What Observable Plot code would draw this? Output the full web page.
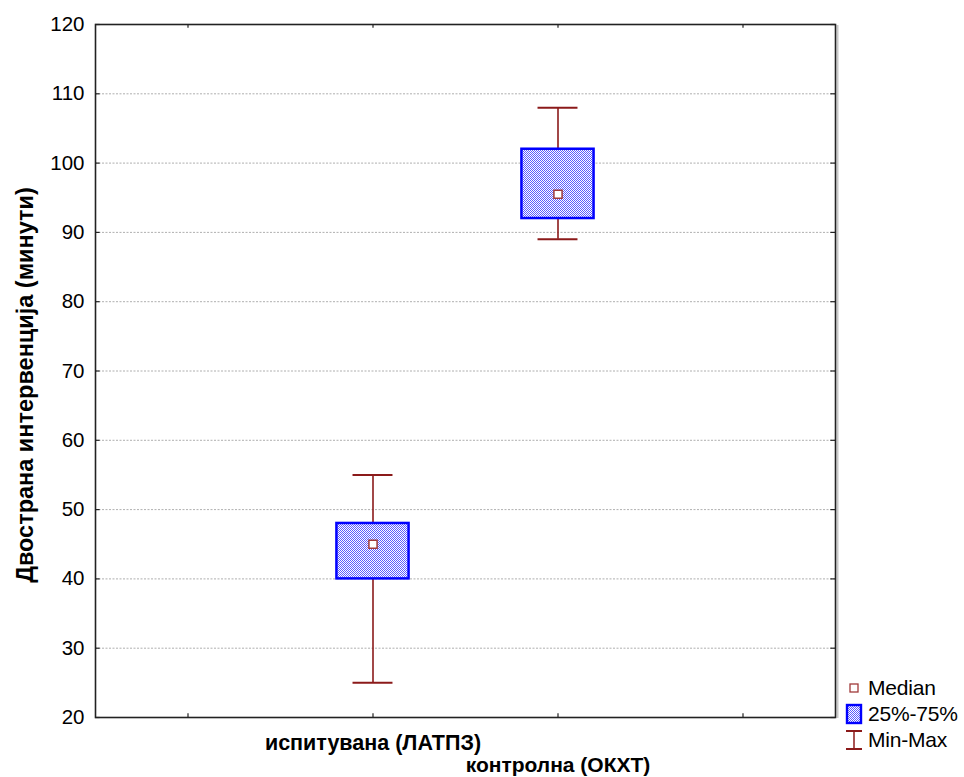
<!DOCTYPE html>
<html>
<head>
<meta charset="utf-8">
<script src="https://cdn.jsdelivr.net/npm/d3@7"></script>
<script src="https://cdn.jsdelivr.net/npm/@observablehq/plot@0.6"></script>
<style>
  body { margin: 0; background: #fff; font-family: "Liberation Sans", Arial, sans-serif; }
  #wrap { position: relative; width: 964px; height: 777px; }
  #legend { position: absolute; left: 843px; top: 675px; font-size: 21px; color: #000; line-height: 26px; letter-spacing: -0.2px; }
  #legend .row { display: flex; align-items: center; height: 26px; }
  #legend svg { width: 22px; height: 22px; margin-right: 3px; flex: none; }
</style>
</head>
<body>
<div id="wrap"><div id="legend"></div></div>
<script>
const categories = ["испитувана (ЛАТПЗ)", "контролна (ОКХТ)"];
const minVals    = [25, 89];
const q1Vals     = [40, 92];
const medianVals = [45, 95.5];
const q3Vals     = [48, 102];
const maxVals    = [55, 108];
const yTicks = [20, 30, 40, 50, 60, 70, 80, 90, 100, 110, 120];
const xSlots = [0.5, 1.5, 2.5, 3.5];
const yLabel = "Двострана интервенција (минути)";
const legendLabels = ["Median", "25%-75%", "Min-Max"];

const data = categories.map((c, i) => ({
  cat: c, pos: i + 1.5, min: minVals[i], q1: q1Vals[i], med: medianVals[i], q3: q3Vals[i], max: maxVals[i], i
}));

const boxHalf = 0.195, capHalf = 0.108;
const whisk = "#8b1a1a";

const chart = Plot.plot({
  width: 964, height: 777,
  marginLeft: 95, marginRight: 129, marginTop: 24, marginBottom: 60,
  style: { fontFamily: "Liberation Sans, Arial, sans-serif", fontSize: "17px", background: "#fff", overflow: "visible" },
  x: { domain: [0, 4], axis: null },
  y: { domain: [20, 120], axis: null },
  marks: [
    Plot.ruleY(yTicks.slice(1, -1), { stroke: "#9a9a9a", strokeWidth: 0.8, strokeDasharray: "2,1.5" }),
    // whiskers
    Plot.ruleX(data, { x: "pos", y1: "min", y2: "q1", stroke: whisk, strokeWidth: 1.6 }),
    Plot.ruleX(data, { x: "pos", y1: "q3", y2: "max", stroke: whisk, strokeWidth: 1.6 }),
    Plot.ruleY(data, { y: "min", x1: d => d.pos - capHalf, x2: d => d.pos + capHalf, stroke: whisk, strokeWidth: 2 }),
    Plot.ruleY(data, { y: "max", x1: d => d.pos - capHalf, x2: d => d.pos + capHalf, stroke: whisk, strokeWidth: 2 }),
    // boxes
    Plot.rect(data, { x1: d => d.pos - boxHalf, x2: d => d.pos + boxHalf, y1: "q1", y2: "q3", fill: "url(#chk)", stroke: "#0000ff", strokeWidth: 2.5 }),
    // medians
    Plot.dot(data, { x: "pos", y: "med", symbol: "square", r: 4.6, fill: "#fff", stroke: "#a03a3a", strokeWidth: 1.5 }),
    // shadow + frame
    Plot.ruleX([4], { y1: 20, y2: 120, stroke: "#c8c8c8", strokeWidth: 2, dx: 2, dy: 1 }),
    Plot.frame({ stroke: "#222", strokeWidth: 1.6 }),
    // inward ticks
    Plot.ruleY(yTicks, { x1: 0, x2: 0.025, stroke: "#222", strokeWidth: 1.2 }),
    Plot.ruleY(yTicks, { x1: 3.975, x2: 4, stroke: "#222", strokeWidth: 1.2 }),
    Plot.ruleX(xSlots, { y1: 20, y2: 20.55, stroke: "#222", strokeWidth: 1.2 }),
    Plot.ruleX(xSlots, { y1: 119.45, y2: 120, stroke: "#222", strokeWidth: 1.2 }),
    // y tick labels
    Plot.text(yTicks, { x: 0, y: d => d, text: d => String(d), textAnchor: "end", dx: -11, fontSize: 20.5, fill: "#000" }),
    // x labels (staggered)
    Plot.text(data.filter(d => d.i % 2 === 0), { x: "pos", y: 20, text: "cat", dy: 26, fontSize: 21.5, fontWeight: "bold", fill: "#000", letterSpacing: "-0.3px" }),
    Plot.text(data.filter(d => d.i % 2 === 1), { x: "pos", y: 20, text: "cat", dy: 48, fontSize: 21, fontWeight: "bold", fill: "#000", letterSpacing: "-0.2px" }),
    // y axis label
    Plot.text([yLabel], { frameAnchor: "left", textAnchor: "middle", rotate: -90, dx: -70, dy: 14, text: d => d, fontSize: 23.5, fontWeight: "bold", fill: "#000", letterSpacing: "-0.1px" })
  ]
});

const ns = "http://www.w3.org/2000/svg";
const defs = document.createElementNS(ns, "defs");
defs.innerHTML = `<pattern id="chk" width="2" height="2" patternUnits="userSpaceOnUse">
  <rect width="2" height="2" fill="#ffffff"/>
  <rect width="1" height="1" fill="#5c5cff"/>
  <rect x="1" y="1" width="1" height="1" fill="#5c5cff"/>
</pattern>`;
chart.insertBefore(defs, chart.firstChild);
document.getElementById("wrap").insertBefore(chart, document.getElementById("legend"));

const icons = [
  `<svg viewBox="0 0 22 22"><rect x="7" y="7" width="8" height="8" fill="#fff" stroke="#a03a3a" stroke-width="1.3"/></svg>`,
  `<svg viewBox="0 0 22 22"><rect x="4" y="2" width="14" height="18" fill="url(#chk2)" stroke="#0000ff" stroke-width="2.4"/><defs><pattern id="chk2" width="2" height="2" patternUnits="userSpaceOnUse"><rect width="2" height="2" fill="#fff"/><rect width="1" height="1" fill="#5c5cff"/><rect x="1" y="1" width="1" height="1" fill="#5c5cff"/></pattern></defs></svg>`,
  `<svg viewBox="0 0 22 22"><line x1="3" y1="2" x2="19" y2="2" stroke="${whisk}" stroke-width="2"/><line x1="11" y1="2" x2="11" y2="20" stroke="${whisk}" stroke-width="1.5"/><line x1="3" y1="20" x2="19" y2="20" stroke="${whisk}" stroke-width="2"/></svg>`
];
const legend = document.getElementById("legend");
legendLabels.forEach((l, i) => {
  const row = document.createElement("div");
  row.className = "row";
  row.innerHTML = icons[i] + `<span>${l}</span>`;
  legend.appendChild(row);
});
</script>
</body>
</html>
